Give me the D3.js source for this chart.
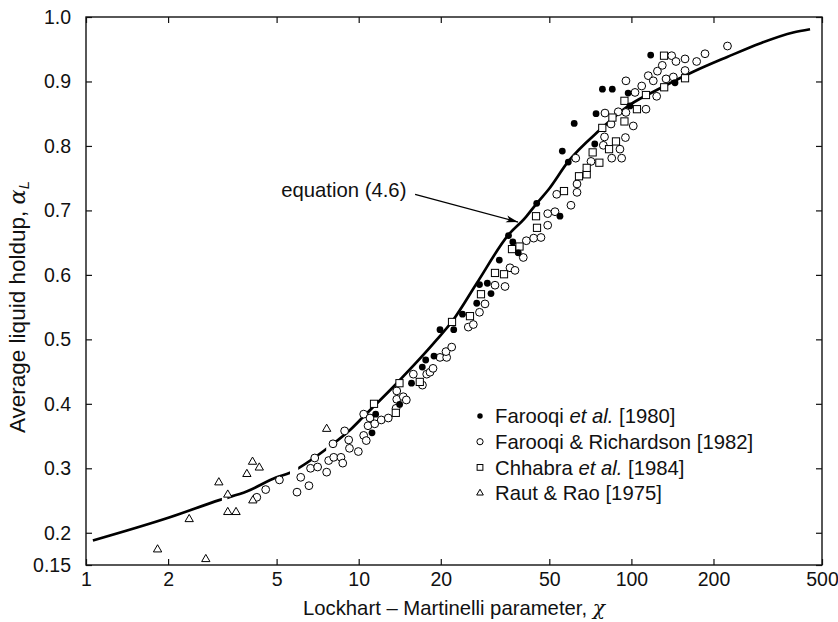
<!DOCTYPE html>
<html>
<head>
<meta charset="utf-8">
<script src="https://cdn.jsdelivr.net/npm/d3@7/dist/d3.min.js"></script>
<style>
  body { margin: 0; background: #fff; }
  text { font-family: "Liberation Sans", Arial, sans-serif; fill: #111; }
</style>
</head>
<body>
<div id="chart"></div>
<script>
'use strict';

// axis ticks
var xTicks = [1, 2, 5, 10, 20, 50, 100, 200, 500];
var yTicks = [0.15, 0.2, 0.3, 0.4, 0.5, 0.6, 0.7, 0.8, 0.9, 1.0];

// equation (4.6)
var eqCurve = [
  [1.06, 0.188], [2.03, 0.224], [3.1, 0.251], [3.88, 0.264], [5.0, 0.286], [5.6, 0.293],
  [6.0, 0.300], [8.06, 0.338], [9.27, 0.359], [10.4, 0.380], [13.8, 0.432], [19.3, 0.499],
  [22.2, 0.530], [27.1, 0.587], [35.4, 0.662], [40.7, 0.688], [45, 0.711], [49.6, 0.732],
  [58.7, 0.776], [76.7, 0.825], [98.9, 0.864], [127, 0.889], [168.5, 0.915], [224.6, 0.938],
  [296, 0.959], [392, 0.976], [452, 0.981]
];
// small breaks in the printed line (x ranges)
var eqGaps = [[3.15, 3.3], [5.6, 6.0], [7.6, 8.0]];

// Farooqi et al. [1980]
var farooqi1980 = [
  [11.19, 0.355], [11.54, 0.384], [14.13, 0.399], [15.62, 0.432], [17.11, 0.457], [17.61, 0.468],
  [18.88, 0.474], [19.87, 0.515], [22.31, 0.515], [24.02, 0.539], [27.09, 0.556], [27.73, 0.585],
  [29.63, 0.587], [30.56, 0.571], [32.78, 0.623], [35.43, 0.661], [36.74, 0.651], [38.48, 0.634],
  [44.96, 0.711], [54.7, 0.691], [55.8, 0.792], [58.7, 0.775], [61.7, 0.835], [73.4, 0.803],
  [74.2, 0.850], [78.3, 0.888], [85.1, 0.888], [97.3, 0.882], [98.8, 0.862], [117.7, 0.941],
  [144.5, 0.898]
];

// Farooqi & Richardson [1982]
var farooqiRichardson = [
  [4.23, 0.255], [4.56, 0.267], [5.12, 0.282], [5.94, 0.263], [6.13, 0.286], [6.57, 0.273],
  [6.66, 0.300], [6.90, 0.316], [7.07, 0.302], [7.63, 0.294], [7.76, 0.312], [8.05, 0.338],
  [8.10, 0.317], [8.61, 0.317], [8.74, 0.308], [8.88, 0.358], [9.19, 0.344], [9.25, 0.331],
  [9.97, 0.326], [10.43, 0.384], [10.43, 0.351], [10.66, 0.343], [10.82, 0.366], [11.0, 0.378],
  [11.45, 0.369], [12.1, 0.375], [12.84, 0.378], [13.71, 0.393], [13.79, 0.407], [13.79, 0.420],
  [14.57, 0.411], [14.95, 0.406], [15.86, 0.446], [17.13, 0.429], [17.76, 0.446], [18.26, 0.449],
  [18.73, 0.455], [19.87, 0.472], [21.02, 0.472], [20.9, 0.481], [21.93, 0.488], [25.23, 0.519],
  [26.32, 0.523], [27.73, 0.542], [29.05, 0.555], [31.61, 0.584], [34.4, 0.582], [35.88, 0.611],
  [37.43, 0.607], [40.14, 0.627], [41.18, 0.653], [43.83, 0.657], [46.61, 0.658], [49.33, 0.677],
  [49.33, 0.695], [52.47, 0.698], [53.23, 0.725], [60.03, 0.708], [63.18, 0.728], [63.18, 0.741],
  [62.5, 0.781], [71.1, 0.776], [78.9, 0.801], [79.7, 0.814], [84.7, 0.781], [92.1, 0.781],
  [90.8, 0.795], [95.1, 0.813], [84.2, 0.834], [80.0, 0.851], [89.5, 0.853], [95.5, 0.852],
  [101.6, 0.831], [113.1, 0.857], [95.5, 0.901], [103.1, 0.883], [109.1, 0.893], [123.8, 0.877],
  [115.3, 0.909], [120.3, 0.901], [124.6, 0.916], [129.8, 0.925], [134.0, 0.904], [142.5, 0.907],
  [140.5, 0.940], [145.7, 0.931], [157.3, 0.935], [157.3, 0.917], [173.5, 0.931], [186.2, 0.943],
  [225.1, 0.955]
];

// Chhabra et al. [1984]
var chhabra1984 = [
  [11.38, 0.400], [13.68, 0.386], [14.11, 0.432], [16.75, 0.434], [21.99, 0.527], [25.59, 0.536],
  [28.08, 0.570], [31.61, 0.603], [34.11, 0.601], [36.49, 0.640], [38.88, 0.644], [44.7, 0.691],
  [45.07, 0.673], [56.6, 0.730], [64.25, 0.753], [68.56, 0.756], [68.56, 0.766], [72.1, 0.790],
  [76.3, 0.774], [82.8, 0.795], [87.8, 0.807], [78.2, 0.828], [85.2, 0.844], [94.3, 0.838],
  [94.3, 0.870], [104.8, 0.857], [113.1, 0.879], [131.9, 0.891], [157.3, 0.905], [131.7, 0.940]
];

// Raut & Rao [1975]
var rautRao = [
  [1.83, 0.174], [2.75, 0.159], [2.39, 0.221], [3.07, 0.278], [3.31, 0.259], [3.31, 0.232],
  [3.55, 0.232], [3.89, 0.291], [4.08, 0.310], [4.32, 0.301], [4.09, 0.250], [7.63, 0.361]
];

var legendItems = [
  { kind: 'filled', label: ['Farooqi ', 'et al.', ' [1980]'] },
  { kind: 'circle', label: ['Farooqi & Richardson [1982]'] },
  { kind: 'square', label: ['Chhabra ', 'et al.', ' [1984]'] },
  { kind: 'triangle', label: ['Raut & Rao [1975]'] }
];

// annotation: text anchor and arrow, in data units
var eqLabel = { text: 'equation (4.6)', x: 5.2, y: 0.721 };
var eqArrow = [[16.1, 0.725], [38.4, 0.682]];

var margin = { top: 17, right: 16, bottom: 57, left: 86 };
var width = 838 - margin.left - margin.right;
var height = 622 - margin.top - margin.bottom;

var svg = d3.select('#chart').append('svg')
  .attr('width', width + margin.left + margin.right)
  .attr('height', height + margin.top + margin.bottom);

var g = svg.append('g').attr('transform', 'translate(' + margin.left + ',' + margin.top + ')');

var x = d3.scaleLog().domain([1, 500]).range([0, width]);
var y = d3.scaleLinear().domain([0.15, 1.0]).range([height, 0]);

// axes, ticks pointing inward on all four sides
var tickFont = 19.5;
var textFont = 20.3;
g.append('g').attr('transform', 'translate(0,' + height + ')')
  .call(d3.axisBottom(x).tickValues(xTicks).tickSize(-6).tickPadding(7).tickFormat(d3.format('d')))
  .call(styleAxis);
g.append('g')
  .call(d3.axisTop(x).tickValues(xTicks).tickSize(-6).tickFormat(''))
  .call(styleAxis);
g.append('g')
  .call(d3.axisLeft(y).tickValues(yTicks).tickSize(-6).tickPadding(15).tickFormat(function (d) {
    return d === 0.15 ? '0.15' : d.toFixed(1);
  }))
  .call(styleAxis);
g.append('g').attr('transform', 'translate(' + width + ',0)')
  .call(d3.axisRight(y).tickValues(yTicks).tickSize(-6).tickFormat(''))
  .call(styleAxis);

function styleAxis(sel) {
  sel.select('.domain').remove();
  sel.selectAll('line').attr('stroke', '#111').attr('stroke-width', 1.2);
  sel.selectAll('text').style('font-size', tickFont + 'px').attr('fill', '#111');
}

g.append('rect')
  .attr('width', width).attr('height', height)
  .attr('fill', 'none').attr('stroke', '#111').attr('stroke-width', 1.4);

// clip that leaves the small breaks in the equation line
var pieces = [];
var start = x.domain()[0];
eqGaps.forEach(function (gp) {
  pieces.push([start, gp[0]]);
  start = gp[1];
});
pieces.push([start, x.domain()[1]]);

var clip = svg.append('defs').append('clipPath').attr('id', 'eqclip');
clip.selectAll('rect').data(pieces).enter().append('rect')
  .attr('x', function (d) { return x(d[0]); })
  .attr('width', function (d) { return x(d[1]) - x(d[0]); })
  .attr('y', -5).attr('height', height + 10);

var line = d3.line()
  .x(function (d) { return x(d[0]); })
  .y(function (d) { return y(d[1]); })
  .curve(d3.curveMonotoneX);

g.append('path')
  .datum(eqCurve)
  .attr('clip-path', 'url(#eqclip)')
  .attr('d', line)
  .attr('fill', 'none')
  .attr('stroke', '#000')
  .attr('stroke-width', 2.7);

// markers
function drawMarker(sel, kind, s) {
  if (kind === 'filled') {
    sel.append('circle').attr('r', 3.4 * s).attr('fill', '#000');
  } else if (kind === 'circle') {
    sel.append('circle').attr('r', 3.9 * s).attr('fill', '#fff').attr('stroke', '#000').attr('stroke-width', 1);
  } else if (kind === 'square') {
    sel.append('rect').attr('x', -3.6 * s).attr('y', -3.6 * s).attr('width', 7.2 * s).attr('height', 7.2 * s)
      .attr('fill', '#fff').attr('stroke', '#000').attr('stroke-width', 1);
  } else {
    sel.append('path').attr('d', d3.symbol(d3.symbolTriangle, 30 * s * s)())
      .attr('fill', '#fff').attr('stroke', '#000').attr('stroke-width', 1);
  }
}

function drawSeries(data, kind) {
  var pts = g.append('g').selectAll('g').data(data).enter().append('g')
    .attr('transform', function (d) { return 'translate(' + x(d[0]) + ',' + y(d[1]) + ')'; });
  pts.each(function () { drawMarker(d3.select(this), kind, 1); });
}

drawSeries(farooqiRichardson, 'circle');
drawSeries(chhabra1984, 'square');
drawSeries(farooqi1980, 'filled');
drawSeries(rautRao, 'triangle');

// annotation
svg.append('defs').append('marker')
  .attr('id', 'arrow').attr('viewBox', '0 0 12 8').attr('refX', 12).attr('refY', 4)
  .attr('markerWidth', 12).attr('markerHeight', 8).attr('markerUnits', 'userSpaceOnUse')
  .attr('orient', 'auto')
  .append('path').attr('d', 'M0,0.5 L12,4 L0,7.5 L3,4 Z').attr('fill', '#000');

g.append('line')
  .attr('x1', x(eqArrow[0][0])).attr('y1', y(eqArrow[0][1]))
  .attr('x2', x(eqArrow[1][0])).attr('y2', y(eqArrow[1][1]))
  .attr('stroke', '#000').attr('stroke-width', 1.3)
  .attr('marker-end', 'url(#arrow)');

g.append('text')
  .attr('x', x(eqLabel.x)).attr('y', y(eqLabel.y))
  .style('font-size', textFont + 'px')
  .text(eqLabel.text);

// legend
var legend = g.append('g').attr('transform', 'translate(394,399)');
var rows = legend.selectAll('g').data(legendItems).enter().append('g')
  .attr('transform', function (d, i) { return 'translate(0,' + (i * 25.7) + ')'; });
rows.each(function (d) { drawMarker(d3.select(this), d.kind, 0.8); });
rows.append('text')
  .attr('x', 15).attr('dy', '0.35em')
  .style('font-size', textFont + 'px')
  .selectAll('tspan').data(function (d) { return d.label; }).enter().append('tspan')
  .style('font-style', function (d) { return d === 'et al.' ? 'italic' : 'normal'; })
  .text(function (d) { return d; });

// axis titles
var xTitle = svg.append('text')
  .attr('x', margin.left + width / 2).attr('y', 615)
  .attr('text-anchor', 'middle')
  .style('font-size', textFont + 'px')
  .text('Lockhart \u2013 Martinelli parameter, ');
xTitle.append('tspan')
  .style('font-style', 'italic').style('font-family', '"DejaVu Serif", serif')
  .text('\u03c7');

var yTitle = svg.append('text')
  .attr('transform', 'translate(25,307) rotate(-90)')
  .attr('text-anchor', 'middle')
  .style('font-size', '22.5px')
  .text('Average liquid holdup, ');
yTitle.append('tspan')
  .style('font-style', 'italic').style('font-family', '"DejaVu Serif", serif')
  .text('\u03b1');
yTitle.append('tspan')
  .style('font-style', 'italic').style('font-size', '15px')
  .attr('dy', '4')
  .text('L');
</script>
</body>
</html>
